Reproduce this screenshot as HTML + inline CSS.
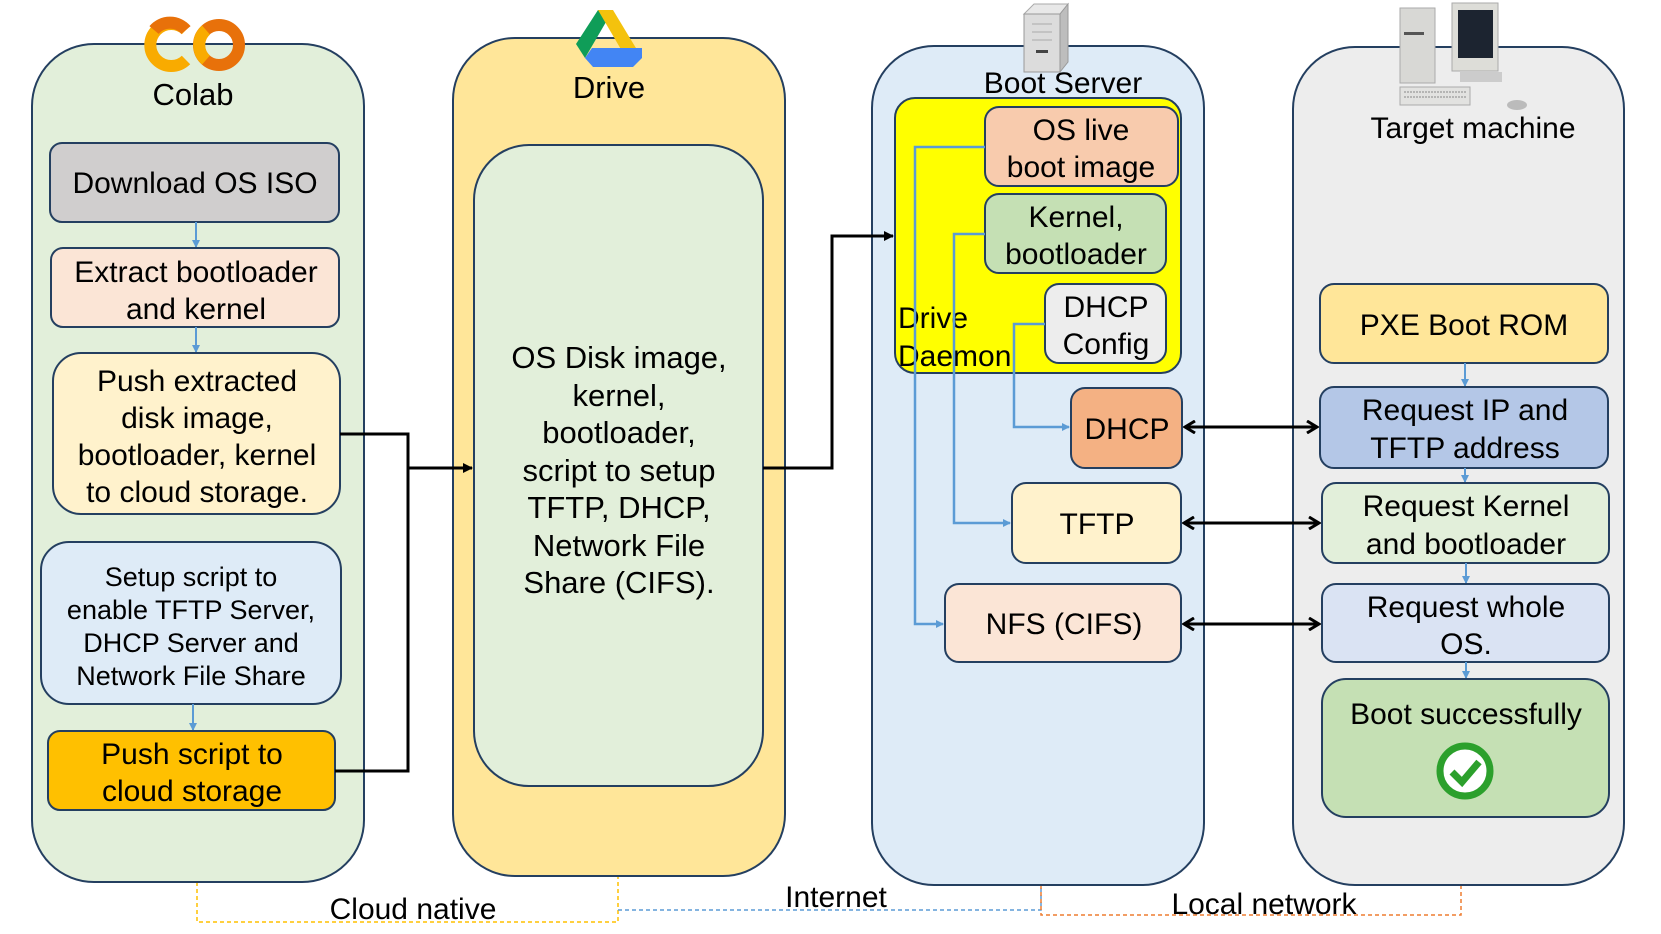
<!DOCTYPE html>
<html><head><meta charset="utf-8"><style>
html,body{margin:0;padding:0;background:#fff;}
svg{display:block;}
text{font-family:"Liberation Sans",sans-serif;fill:#000;}
</style></head><body>
<svg width="1661" height="934" viewBox="0 0 1661 934" xmlns="http://www.w3.org/2000/svg">
<defs>
<marker id="bl" markerWidth="8" markerHeight="8" refX="7" refY="4" orient="auto" markerUnits="userSpaceOnUse"><path d="M0,0 L8,4 L0,8 z" fill="#5b9bd5"/></marker>
<marker id="bk" markerWidth="14" markerHeight="14" refX="12" refY="7" orient="auto-start-reverse" markerUnits="userSpaceOnUse"><path d="M2,1 L12,7 L2,13" fill="none" stroke="#000" stroke-width="3"/></marker>
<marker id="bk2" markerWidth="10" markerHeight="10" refX="9" refY="5" orient="auto" markerUnits="userSpaceOnUse"><path d="M0,0 L10,5 L0,10 z" fill="#000"/></marker>
</defs>

<path d="M197,882 V922 H618 V876" fill="none" stroke="#ffc000" stroke-width="1.5" stroke-dasharray="4,3"/>
<path d="M618,910 H1041 V885" fill="none" stroke="#5b9bd5" stroke-width="1.5" stroke-dasharray="4,3"/>
<path d="M1041,885 V915 H1461 V885" fill="none" stroke="#ed7d31" stroke-width="1.5" stroke-dasharray="4,3"/>
<text x="413" y="919" font-size="30" text-anchor="middle">Cloud native</text>
<text x="836" y="907" font-size="30" text-anchor="middle">Internet</text>
<text x="1264" y="914" font-size="30" text-anchor="middle">Local network</text>

<rect x="32" y="44" width="332" height="838" rx="62" fill="#e2efda" stroke="#243f60" stroke-width="2"/>
<rect x="453" y="38" width="332" height="838" rx="62" fill="#ffe699" stroke="#243f60" stroke-width="2"/>
<rect x="872" y="46" width="332" height="839" rx="62" fill="#deebf7" stroke="#243f60" stroke-width="2"/>
<rect x="1293" y="47" width="331" height="838" rx="62" fill="#ededed" stroke="#243f60" stroke-width="2"/>

<!-- Colab logo -->
<path d="M186,30 A21,21 0 1 0 186,60" fill="none" stroke="#f9ab00" stroke-width="12"/>
<path d="M186,30 A21,21 0 0 0 154,30" fill="none" stroke="#e8710a" stroke-width="12"/>
<circle cx="219" cy="45" r="20" fill="none" stroke="#e8710a" stroke-width="12"/>
<path d="M206,30 A20,20 0 0 0 206,60" fill="none" stroke="#f9ab00" stroke-width="12"/>
<text x="193" y="105" font-size="31" text-anchor="middle">Colab</text>

<polygon points="598,10 613,10 585,58 576,44" fill="#0f9d58"/>
<polygon points="598,10 613,10 642,58 626,58" fill="#f4c20d"/>
<polygon points="585,58 642,58 633,67 593,67" fill="#4285f4"/>
<polygon points="592,48 642,48 642,58 585,58" fill="#4285f4"/>
<text x="609" y="98" font-size="31" text-anchor="middle">Drive</text>

<polygon points="1024,14 1034,4 1068,4 1060,14" fill="#e8e8e8" stroke="#aaa"/>
<polygon points="1060,14 1068,4 1068,62 1060,72" fill="#bdbdbd" stroke="#999"/>
<rect x="1024" y="14" width="36" height="58" fill="#dcdcdc" stroke="#999"/>
<line x1="1032" y1="24" x2="1052" y2="24" stroke="#aaa"/><line x1="1032" y1="32" x2="1052" y2="32" stroke="#aaa"/><line x1="1032" y1="40" x2="1052" y2="40" stroke="#aaa"/>
<rect x="1036" y="50" width="12" height="3" fill="#444"/>
<text x="1063" y="93" font-size="30" text-anchor="middle">Boot Server</text>

<rect x="1400" y="8" width="35" height="75" fill="#d8d8d5" stroke="#aaa"/>
<rect x="1404" y="32" width="20" height="3" fill="#555"/>
<rect x="1452" y="3" width="46" height="68" fill="#ddddd8" stroke="#aaa"/>
<rect x="1458" y="10" width="35" height="48" fill="#1c2430"/>
<rect x="1460" y="72" width="42" height="10" fill="#ccc"/>
<rect x="1400" y="87" width="70" height="18" fill="#e2e2e0" stroke="#aaa"/>
<line x1="1404" y1="92" x2="1466" y2="92" stroke="#888" stroke-dasharray="2,1"/>
<line x1="1404" y1="97" x2="1466" y2="97" stroke="#888" stroke-dasharray="2,1"/>
<ellipse cx="1517" cy="105" rx="10" ry="5" fill="#bbb"/>
<text x="1473" y="138" font-size="30" text-anchor="middle">Target machine</text>

<rect x="50" y="143" width="289" height="79" rx="12" fill="#d0cece" stroke="#243f60" stroke-width="2"/>
<text x="195" y="193" font-size="30" text-anchor="middle">Download OS ISO</text>
<line x1="196" y1="222" x2="196" y2="247" stroke="#5b9bd5" stroke-width="2" marker-end="url(#bl)"/>
<rect x="51" y="248" width="288" height="79" rx="12" fill="#fbe5d6" stroke="#243f60" stroke-width="2"/>
<text x="196" y="282" font-size="30" text-anchor="middle">Extract bootloader</text>
<text x="196" y="319" font-size="30" text-anchor="middle">and kernel</text>
<line x1="196" y1="327" x2="196" y2="352" stroke="#5b9bd5" stroke-width="2" marker-end="url(#bl)"/>
<rect x="53" y="353" width="287" height="161" rx="28" fill="#fff2cc" stroke="#243f60" stroke-width="2"/>
<text x="197" y="391" font-size="30" text-anchor="middle">Push extracted</text>
<text x="197" y="428" font-size="30" text-anchor="middle">disk image,</text>
<text x="197" y="465" font-size="30" text-anchor="middle">bootloader, kernel</text>
<text x="197" y="502" font-size="30" text-anchor="middle">to cloud storage.</text>
<rect x="41" y="542" width="300" height="162" rx="28" fill="#deebf7" stroke="#243f60" stroke-width="2"/>
<text x="191" y="586" font-size="27" text-anchor="middle">Setup script to</text>
<text x="191" y="619" font-size="27" text-anchor="middle">enable TFTP Server,</text>
<text x="191" y="652" font-size="27" text-anchor="middle">DHCP Server and</text>
<text x="191" y="685" font-size="27" text-anchor="middle">Network File Share</text>
<line x1="193" y1="704" x2="193" y2="730" stroke="#5b9bd5" stroke-width="2" marker-end="url(#bl)"/>
<rect x="48" y="731" width="287" height="79" rx="12" fill="#ffc000" stroke="#243f60" stroke-width="2"/>
<text x="192" y="764" font-size="30" text-anchor="middle">Push script to</text>
<text x="192" y="801" font-size="30" text-anchor="middle">cloud storage</text>

<rect x="474" y="145" width="289" height="641" rx="55" fill="#e2efda" stroke="#243f60" stroke-width="2"/>
<g font-size="31" text-anchor="middle">
<text x="619" y="368">OS Disk image,</text>
<text x="619" y="406">kernel,</text>
<text x="619" y="443">bootloader,</text>
<text x="619" y="481">script to setup</text>
<text x="619" y="518">TFTP, DHCP,</text>
<text x="619" y="556">Network File</text>
<text x="619" y="593">Share (CIFS).</text>
</g>

<path d="M340,434 H408 V468" fill="none" stroke="#000" stroke-width="3"/>
<path d="M335,771 H408 V468 H472" fill="none" stroke="#000" stroke-width="3" marker-end="url(#bk2)"/>
<path d="M763,468 H832 V236 H893" fill="none" stroke="#000" stroke-width="3" marker-end="url(#bk2)"/>

<rect x="895" y="98" width="286" height="275" rx="20" fill="#ffff00" stroke="#243f60" stroke-width="2"/>
<rect x="985" y="107" width="193" height="79" rx="14" fill="#f8cbad" stroke="#243f60" stroke-width="2"/>
<text x="1081" y="140" font-size="30" text-anchor="middle">OS live</text>
<text x="1081" y="177" font-size="30" text-anchor="middle">boot image</text>
<rect x="985" y="194" width="181" height="79" rx="14" fill="#c5e0b4" stroke="#243f60" stroke-width="2"/>
<text x="1076" y="227" font-size="30" text-anchor="middle">Kernel,</text>
<text x="1076" y="264" font-size="30" text-anchor="middle">bootloader</text>
<rect x="1045" y="284" width="121" height="79" rx="14" fill="#ededed" stroke="#243f60" stroke-width="2"/>
<text x="1106" y="317" font-size="30" text-anchor="middle">DHCP</text>
<text x="1106" y="354" font-size="30" text-anchor="middle">Config</text>
<text x="898" y="328" font-size="30">Drive</text>
<text x="898" y="366" font-size="30">Daemon</text>

<rect x="1071" y="388" width="111" height="80" rx="14" fill="#f4b183" stroke="#243f60" stroke-width="2"/>
<text x="1127" y="439" font-size="30" text-anchor="middle">DHCP</text>
<rect x="1012" y="483" width="169" height="80" rx="14" fill="#fff2cc" stroke="#243f60" stroke-width="2"/>
<text x="1097" y="534" font-size="30" text-anchor="middle">TFTP</text>
<rect x="945" y="584" width="236" height="78" rx="14" fill="#fbe5d6" stroke="#243f60" stroke-width="2"/>
<text x="1064" y="634" font-size="30" text-anchor="middle">NFS (CIFS)</text>

<path d="M985,147 H915 V624 H943" fill="none" stroke="#5b9bd5" stroke-width="2.5" marker-end="url(#bl)"/>
<path d="M985,234 H954 V523 H1010" fill="none" stroke="#5b9bd5" stroke-width="2.5" marker-end="url(#bl)"/>
<path d="M1045,324 H1014 V427 H1069" fill="none" stroke="#5b9bd5" stroke-width="2.5" marker-end="url(#bl)"/>

<rect x="1320" y="284" width="288" height="79" rx="14" fill="#ffe699" stroke="#243f60" stroke-width="2"/>
<text x="1464" y="335" font-size="30" text-anchor="middle">PXE Boot ROM</text>
<line x1="1465" y1="363" x2="1465" y2="386" stroke="#5b9bd5" stroke-width="2" marker-end="url(#bl)"/>
<rect x="1320" y="387" width="288" height="81" rx="14" fill="#b4c7e7" stroke="#243f60" stroke-width="2"/>
<text x="1465" y="420" font-size="30" text-anchor="middle">Request IP and</text>
<text x="1465" y="458" font-size="30" text-anchor="middle">TFTP address</text>
<line x1="1465" y1="468" x2="1465" y2="482" stroke="#5b9bd5" stroke-width="2" marker-end="url(#bl)"/>
<rect x="1322" y="483" width="287" height="80" rx="14" fill="#e2efda" stroke="#243f60" stroke-width="2"/>
<text x="1466" y="516" font-size="30" text-anchor="middle">Request Kernel</text>
<text x="1466" y="554" font-size="30" text-anchor="middle">and bootloader</text>
<line x1="1466" y1="563" x2="1466" y2="583" stroke="#5b9bd5" stroke-width="2" marker-end="url(#bl)"/>
<rect x="1322" y="584" width="287" height="78" rx="14" fill="#dae3f3" stroke="#243f60" stroke-width="2"/>
<text x="1466" y="617" font-size="30" text-anchor="middle">Request whole</text>
<text x="1466" y="654" font-size="30" text-anchor="middle">OS.</text>
<line x1="1466" y1="662" x2="1466" y2="678" stroke="#5b9bd5" stroke-width="2" marker-end="url(#bl)"/>
<rect x="1322" y="679" width="287" height="138" rx="24" fill="#c5e0b4" stroke="#243f60" stroke-width="2"/>
<text x="1466" y="724" font-size="30" text-anchor="middle">Boot successfully</text>
<circle cx="1465" cy="771" r="25" fill="#fff" stroke="#2ca02c" stroke-width="7"/>
<path d="M1452,772 L1462,782 L1479,762" fill="none" stroke="#2ca02c" stroke-width="7"/>

<line x1="1185" y1="427" x2="1317" y2="427" stroke="#000" stroke-width="3" marker-start="url(#bk)" marker-end="url(#bk)"/>
<line x1="1184" y1="523" x2="1319" y2="523" stroke="#000" stroke-width="3" marker-start="url(#bk)" marker-end="url(#bk)"/>
<line x1="1184" y1="624" x2="1319" y2="624" stroke="#000" stroke-width="3" marker-start="url(#bk)" marker-end="url(#bk)"/>
</svg>
</body></html>
